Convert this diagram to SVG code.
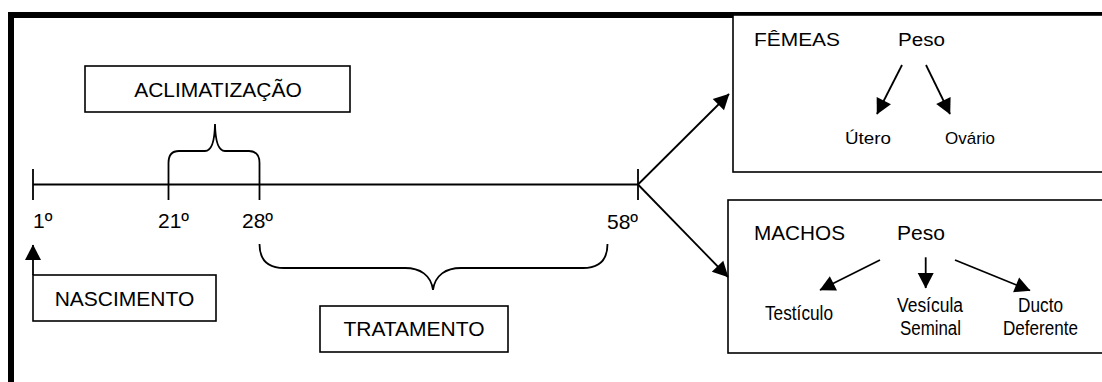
<svg xmlns="http://www.w3.org/2000/svg" width="1102" height="382" viewBox="0 0 1102 382">
  <style>
    .box { fill: #fff; stroke: #000; stroke-width: 1.6; }
    .ln { fill: none; stroke: #000; stroke-width: 1.8; }
    .arr { fill: none; stroke: #000; stroke-width: 1.8; marker-end: url(#head); }
    text { font-family: "Liberation Sans", Arial, sans-serif; fill: #000; }
    .lg { font-size: 21px; }
    .fm { font-size: 17.5px; }
    .sm { font-size: 19.5px; }
    .smf { font-size: 17px; }
    .mid { text-anchor: middle; }
  </style>
  <defs>
    <marker id="head" markerUnits="userSpaceOnUse" markerWidth="16" markerHeight="16" refX="15" refY="8" orient="auto" overflow="visible">
      <path d="M0,0 L15.5,8 L0,16 Z" fill="#000"/>
    </marker>
  </defs>

  <rect width="1102" height="382" fill="#fff"/>

  <!-- heavy frame: top and left edges -->
  <path d="M11,390 V15 H1110" fill="none" stroke="#000" stroke-width="6" stroke-linejoin="miter"/>

  <!-- timeline -->
  <g id="timeline">
    <path class="ln" d="M33,184.5 H638"/>
    <path class="ln" d="M33,169 V200"/>
    <path class="ln" d="M638,169 V200"/>
    <text class="lg" x="33" y="228">1º</text>
    <text class="lg" x="158" y="228">21º</text>
    <text class="lg" x="242" y="228">28º</text>
    <text class="lg" x="607" y="229">58º</text>
  </g>

  <!-- brace over days 21-28 (its ends double as ticks) -->
  <g id="brace-aclimatizacao">
    <path class="ln" d="M168.5,200 V163 Q168.5,151 179,151 H205 Q214.5,151 215,124 Q215.5,151 225,151 H249 Q259.5,151 259.5,163 V200"/>
  </g>

  <g id="aclimatizacao">
    <rect class="box" x="85" y="66" width="265" height="46"/>
    <text class="lg mid" x="218" y="97">ACLIMATIZAÇÃO</text>
  </g>

  <!-- brace under days 28-58 -->
  <g id="brace-tratamento">
    <path class="ln" d="M259.5,244 Q259.5,268 284,268 H405 C420,268 431,275 433,290 C435,275 446,268 461,268 H583 Q607.5,268 607.5,244"/>
  </g>

  <g id="tratamento">
    <rect class="box" x="320" y="306" width="188" height="46"/>
    <text class="lg mid" x="414" y="336">TRATAMENTO</text>
  </g>

  <g id="nascimento">
    <rect class="box" x="33" y="275" width="183" height="46"/>
    <text class="lg mid" x="124.5" y="306">NASCIMENTO</text>
  </g>

  <g id="femeas">
    <rect class="box" x="733" y="15" width="400" height="157"/>
    <text class="fm" x="754" y="46" textLength="86" lengthAdjust="spacingAndGlyphs">FÊMEAS</text>
    <text class="fm" x="898" y="46" textLength="47" lengthAdjust="spacingAndGlyphs">Peso</text>
    <text class="smf" x="845" y="144" textLength="46" lengthAdjust="spacingAndGlyphs">Útero</text>
    <text class="smf" x="945" y="144" textLength="50" lengthAdjust="spacingAndGlyphs">Ovário</text>
  </g>

  <g id="machos">
    <rect class="box" x="728" y="200" width="400" height="153"/>
    <text class="lg" x="754" y="240" textLength="91" lengthAdjust="spacingAndGlyphs">MACHOS</text>
    <text class="lg" x="897" y="240" textLength="48" lengthAdjust="spacingAndGlyphs">Peso</text>
    <text class="sm" x="765" y="320" textLength="68" lengthAdjust="spacingAndGlyphs">Testículo</text>
    <text class="sm mid" x="930" y="311.5" textLength="66" lengthAdjust="spacingAndGlyphs">Vesícula</text>
    <text class="sm mid" x="930.5" y="335" textLength="61" lengthAdjust="spacingAndGlyphs">Seminal</text>
    <text class="sm mid" x="1040.5" y="311.5" textLength="45" lengthAdjust="spacingAndGlyphs">Ducto</text>
    <text class="sm mid" x="1040.5" y="335" textLength="75" lengthAdjust="spacingAndGlyphs">Deferente</text>
  </g>

  <g id="connectors">
    <path class="arr" d="M33,275 V245"/>
    <path class="arr" d="M638,184.5 L729,94"/>
    <path class="arr" d="M638,184.5 L728,277"/>
    <path class="arr" d="M902,65 L877,114"/>
    <path class="arr" d="M926,65 L950,114"/>
    <path class="arr" d="M880,260 L820,290"/>
    <path class="arr" d="M925.7,257.3 V288"/>
    <path class="arr" d="M955,260 L1030,290.5"/>
  </g>
</svg>
